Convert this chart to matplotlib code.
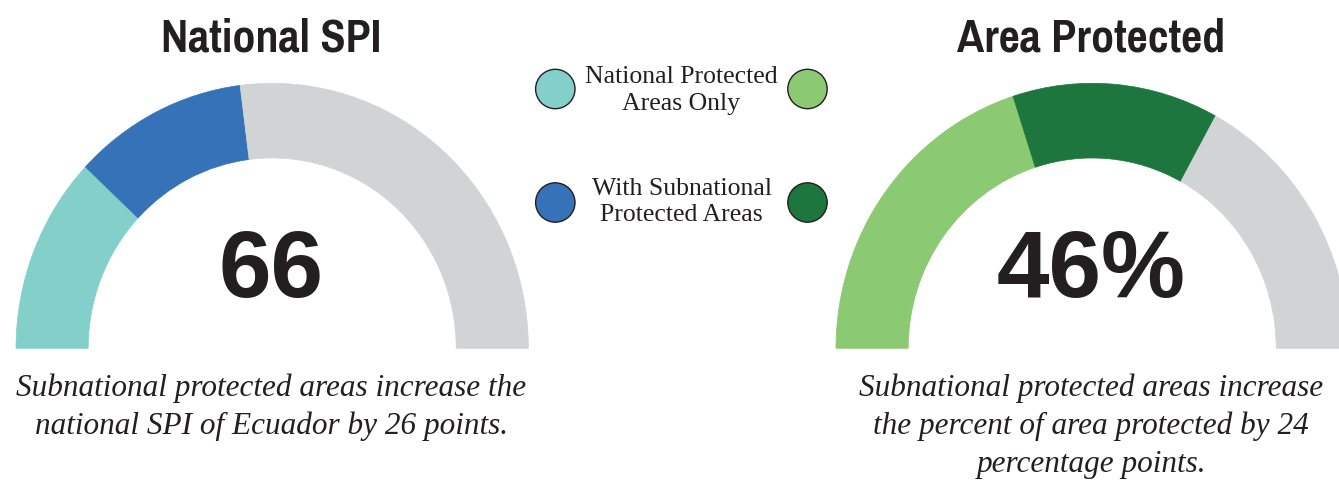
import os
import matplotlib
matplotlib.use("Agg")
import matplotlib.pyplot as plt
import matplotlib.font_manager as fm
from matplotlib.patches import Wedge, Circle
from matplotlib.transforms import Affine2D

# ---- data (as drawn in the reference) ----
titles = ["National SPI", "Area Protected"]
center_labels = ["66", "46%"]
national_only = [24, 40]        # first segment end (gauge scale 0-100)
with_subnational = [46, 66]     # second segment end
gauge_max = 100
captions = [
    ["Subnational protected areas increase the",
     "national SPI of Ecuador by 26 points."],
    ["Subnational protected areas increase",
     "the percent of area protected by 24",
     "percentage points."],
]
legend_labels = [["National Protected", "Areas Only"],
                 ["With Subnational", "Protected Areas"]]

light_colors = ["#83D0CB", "#8CC973"]
dark_colors = ["#3572B7", "#1C763D"]
gray = "#D1D4D5"
ink = "#231F20"

# condensed bold font for the titles, if one is installed (narrowest first)
title_prop = None
pattern_groups = [(["narrow-bold", "narrowbold"], 36),
                  (["condensed-bold", "condensedbold", "cond-bold",
                    "boldcondensed", "bold-condensed"], 30)]
files = [f.fname for f in fm.fontManager.ttflist]
for pats, size in pattern_groups:
    for fn in files:
        base = os.path.basename(fn).lower()
        if any(p in base for p in pats) and "oblique" not in base and "italic" not in base:
            title_prop = fm.FontProperties(fname=fn, size=size)
            break
    if title_prop is not None:
        break
if title_prop is None:
    title_prop = fm.FontProperties(family="Roboto", weight="bold", size=26)

W, H = 1339, 481
fig = plt.figure(figsize=(W / 100, H / 100), dpi=100)
ax = fig.add_axes([0, 0, 1, 1])
ax.set_xlim(0, W)
ax.set_ylim(0, H)
ax.axis("off")

cx_list = [272.2, 1092.2]
cy = H - 349.3
rx, ry = 256.2, 265.0
ring = 1 - 184.0 / 256.2

def ang(v):
    return 180 - 180.0 * v / gauge_max

for i in range(2):
    tr = Affine2D().scale(rx, ry).translate(cx_list[i], cy) + ax.transData
    segs = [(0, national_only[i], light_colors[i]),
            (national_only[i], with_subnational[i], dark_colors[i]),
            (with_subnational[i], gauge_max, gray)]
    for a, b, c in segs:
        w = Wedge((0, 0), 1.0, ang(b), ang(a), width=ring, facecolor=c,
                  edgecolor=c, linewidth=0.5, transform=tr)
        ax.add_patch(w)
    ax.text(cx_list[i] - 1, H - 297, center_labels[i], ha="center", va="baseline",
            fontsize=68, fontweight="bold", color=ink,
            family=["Liberation Sans", "DejaVu Sans"])
    ax.text(cx_list[i] - 1, H - 51, titles[i], ha="center", va="baseline",
            color=ink, fontproperties=title_prop)

cap_y0 = [388, 388]
for i in range(2):
    for k, line in enumerate(captions[i]):
        ax.text(cx_list[i] - 1, H - (cap_y0[i] + 38.5 * k), line, ha="center",
                va="center", fontsize=22.5, style="italic", color=ink,
                family=["Liberation Serif", "DejaVu Serif"])

# legend
leg_y = [90, 203.5]
leg_text_y = [[77, 104], [189, 215]]
circ_x = [555.3, 807.5]
for j in range(2):
    cols = light_colors if j == 0 else dark_colors
    for k in range(2):
        ax.add_patch(Circle((circ_x[k], H - leg_y[j]), 19.7, facecolor=cols[k],
                            edgecolor=ink, linewidth=1.0))
    for k, line in enumerate(legend_labels[j]):
        ax.text(681.5, H - leg_text_y[j][k], line, ha="center", va="center",
                fontsize=18.5, color=ink,
                family=["Liberation Serif", "DejaVu Serif"])

fig.savefig("out.png", dpi=100)
